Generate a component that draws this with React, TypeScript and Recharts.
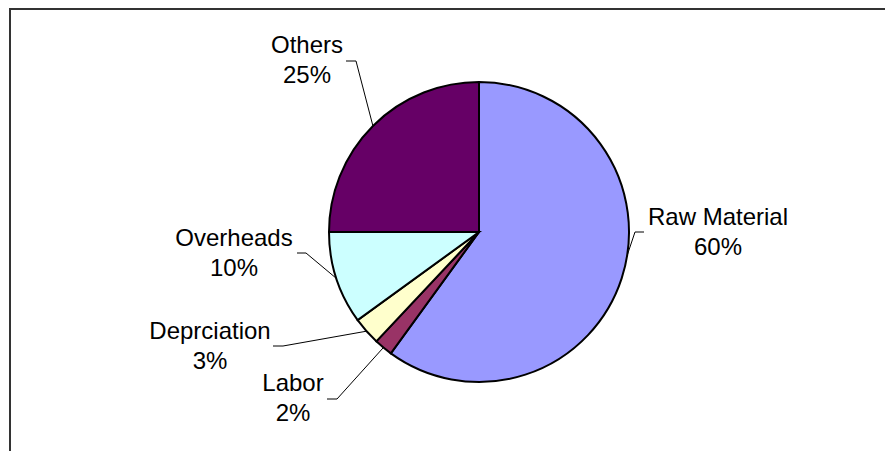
import { PieChart, Pie, Cell } from 'recharts'

const CATEGORIES = ['Raw Material', 'Labor', 'Deprciation', 'Overheads', 'Others']
const SHARES = [60, 2, 3, 10, 25]
const COLORS = ['#9999ff', '#993366', '#ffffcc', '#ccffff', '#660066']

// label placement relative to the pie centre: text block centre, leader elbow, tail end,
// and an angle shift for where the leader meets the rim
const LABEL_LAYOUT = [
  { text: [239, 0], elbow: [156, 0], tail: [165, 0], shift: 9 },
  { text: [-186, 166], elbow: [-142, 167], tail: [-152, 167], shift: 0 },
  { text: [-269, 114], elbow: [-196, 114], tail: [-206, 114], shift: 0 },
  { text: [-245, 21], elbow: [-173, 21], tail: [-182, 21], shift: 0 },
  { text: [-172, -172], elbow: [-123, -171], tail: [-133, -171], shift: 0 },
]

const RADIAN = Math.PI / 180

const data = CATEGORIES.map((name, i) => ({ name, value: SHARES[i] }))
const total = SHARES.reduce((a, b) => a + b, 0)

function renderLabel(props: any) {
  const { cx, cy, outerRadius, midAngle, index } = props
  const layout = LABEL_LAYOUT[index]
  const a = midAngle + layout.shift
  const px = cx + outerRadius * Math.cos(-a * RADIAN)
  const py = cy + outerRadius * Math.sin(-a * RADIAN)
  const [ex, ey] = layout.elbow
  const [hx, hy] = layout.tail
  const [tx, ty] = layout.text
  const pct = Math.round((SHARES[index] / total) * 100)
  return (
    <g>
      <polyline
        points={`${px},${py} ${cx + ex},${cy + ey} ${cx + hx},${cy + hy}`}
        fill="none"
        stroke="#000"
        strokeWidth={1}
      />
      <text
        x={cx + tx}
        y={cy + ty}
        textAnchor="middle"
        fill="#000"
        style={{ fontFamily: 'Liberation Sans, Arial, sans-serif', fontSize: 24 }}
      >
        <tspan x={cx + tx} dy={-7}>{CATEGORIES[index]}</tspan>
        <tspan x={cx + tx} dy={30}>{pct}%</tspan>
      </text>
    </g>
  )
}

export default function App() {
  return (
    <div style={{ position: 'fixed', left: 0, top: 0, width: 885, height: 451, background: '#fff' }}>
      <PieChart width={885} height={451} margin={{ top: 0, right: 0, bottom: 0, left: 0 }}>
        <Pie
          data={data}
          dataKey="value"
          cx={479}
          cy={232}
          outerRadius={150}
          startAngle={90}
          endAngle={-270}
          stroke="#000"
          strokeWidth={2}
          label={renderLabel}
          labelLine={false}
          isAnimationActive={false}
        >
          {data.map((d, i) => (
            <Cell key={d.name} fill={COLORS[i]} />
          ))}
        </Pie>
      </PieChart>
      {/* chart area frame, open on the right and bottom like the source */}
      <svg
        width={885}
        height={451}
        style={{ position: 'absolute', left: 0, top: 0, pointerEvents: 'none' }}
      >
        <polyline points="10,451 10,9 885,9" fill="none" stroke="#333" strokeWidth={2} />
      </svg>
    </div>
  )
}
